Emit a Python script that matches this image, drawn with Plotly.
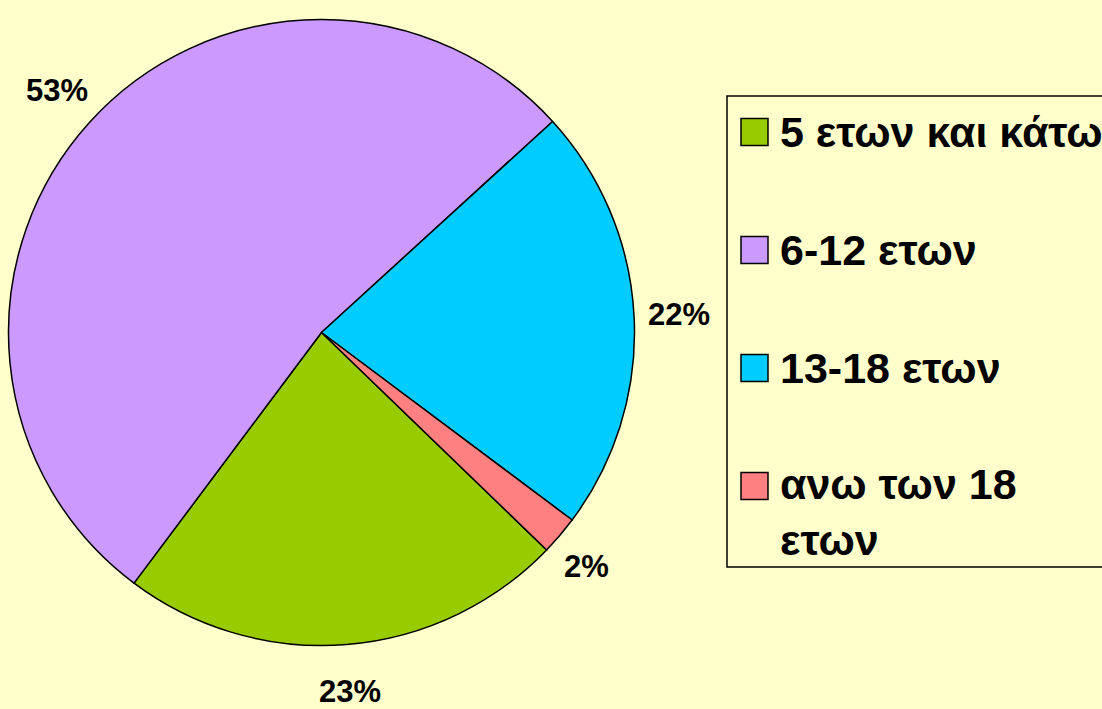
import math
import plotly.graph_objects as go

# ---- data ----
categories = ["5 ετων και κάτω", "6-12 ετων", "13-18 ετων", "ανω των 18 ετων"]
legend_labels = ["5 ετων και κάτω", "6-12 ετων", "13-18 ετων", "ανω των 18<br>ετων"]
values = [23, 53, 22, 2]
colors = ["#99CC00", "#CC99FF", "#00CCFF", "#FF8080"]

W, H = 1102, 709
BG = "#FFFFCC"
FONT = "Liberation Sans, Arial, sans-serif"

# pie geometry (px)
cx, cy, R = 321.5, 332.5, 313
rotation = 134

def px_to_paper(x, y):
    return x / W, 1 - y / H

fig = go.Figure()
fig.add_trace(go.Pie(
    labels=categories,
    values=values,
    sort=False,
    direction="clockwise",
    rotation=rotation,
    marker=dict(colors=colors, line=dict(color="black", width=1.5)),
    textinfo="none",
    hoverinfo="label+percent",
    showlegend=False,
    domain=dict(x=[(cx - R) / W, (cx + R) / W],
                y=[1 - (cy + R) / H, 1 - (cy - R) / H]),
))

annotations = []
shapes = []

# percentage labels outside each slice, positioned from the values
total = sum(values)
start = rotation
label_font = 31
gx, gy = 14, 36
for v in values:
    span = 360 * v / total
    mid = math.radians(start + span / 2)
    start += span
    dx, dy = math.sin(mid), -math.cos(mid)
    txt = f"{round(100 * v / total)}%"
    w = len(txt) * 0.66 * label_font
    h = 0.75 * label_font
    px = cx + dx * (R + gx) + dx * w / 2
    py = cy + dy * (R + gy) + dy * h / 2
    x, y = px_to_paper(px, py)
    annotations.append(dict(
        x=x, y=y, xref="paper", yref="paper", text=txt, showarrow=False,
        xanchor="center", yanchor="middle",
        font=dict(family=FONT, size=label_font, color="black", weight="bold"),
    ))

# manual legend (box, swatches, texts)
box_l, box_t, box_b = 727, 96, 567
x0, y1 = px_to_paper(box_l, box_t)
_, y0 = px_to_paper(box_l, box_b)
shapes.append(dict(type="rect", xref="paper", yref="paper",
                   x0=x0, x1=1.02, y0=y0, y1=y1,
                   line=dict(color="black", width=1.5), fillcolor=BG, layer="below"))

leg_font = 43
item_centers = [132, 250, 368, 486]
sq = 27
for lab, col, yc in zip(legend_labels, colors, item_centers):
    sx0, sy0 = px_to_paper(741, yc - sq / 2)
    sx1, sy1 = px_to_paper(741 + sq, yc + sq / 2)
    shapes.append(dict(type="rect", xref="paper", yref="paper",
                       x0=sx0, x1=sx1, y0=sy1, y1=sy0,
                       line=dict(color="black", width=1.5), fillcolor=col))
    nlines = lab.count("<br>") + 1
    lh = 1.22 * leg_font
    ty = yc + (nlines - 1) * lh / 2
    tx, typ = px_to_paper(778, ty)
    annotations.append(dict(
        x=tx, y=typ, xref="paper", yref="paper", text=lab, showarrow=False,
        xanchor="left", yanchor="middle", align="left",
        font=dict(family=FONT, size=leg_font, color="black", weight="bold"),
    ))

fig.update_layout(
    width=W, height=H,
    margin=dict(l=0, r=0, t=0, b=0),
    paper_bgcolor=BG, plot_bgcolor=BG,
    showlegend=False,
    annotations=annotations,
    shapes=shapes,
)

fig.write_html("out.html",
               config={"displayModeBar": False},
               post_script="document.body.style.margin='0';document.body.style.overflow='hidden';")
